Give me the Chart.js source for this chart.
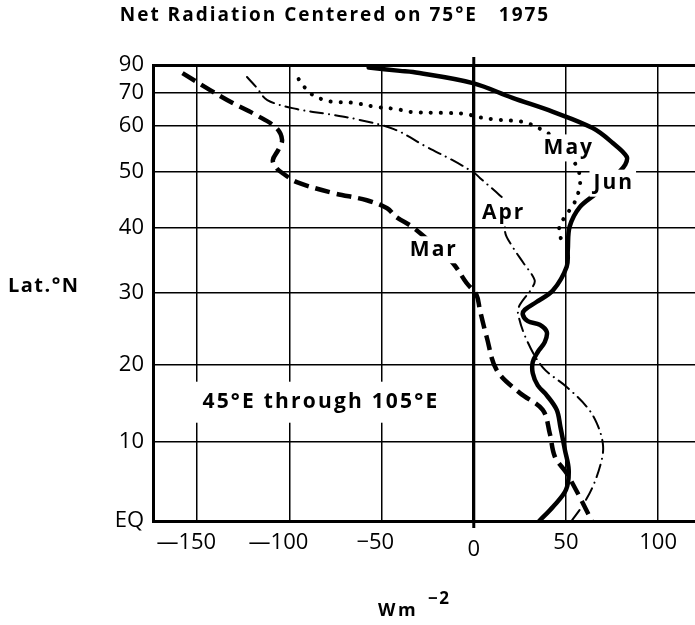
<!DOCTYPE html>
<html>
<head>
<meta charset="utf-8">
<title>Net Radiation Centered on 75°E 1975</title>
<script src="https://cdn.jsdelivr.net/npm/chart.js@4/dist/chart.umd.min.js"></script>
<style>
    html, body { margin: 0; padding: 0; background: #fff; }
    canvas { display: block; }
</style>
</head>
<body>
<canvas id="netRadChart" width="695" height="625"></canvas>
<script>
// Net radiation profiles, 45°E - 105°E, 1975 (W m-2 against latitude)

const latTicks = [0, 10, 20, 30, 40, 50, 60, 70, 90];
const latTickLabels = ['EQ', '10', '20', '30', '40', '50', '60', '70', '90'];
const fluxTicks = [-150, -100, -50, 0, 50, 100];
const fluxTickLabels = ['\u2014150', '\u2014100', '\u221250', '0', '50', '100'];

const monthNames = ['Mar', 'Apr', 'May', 'Jun'];

// March
const marLat = [79.2, 70.9, 66.5, 62.9, 59.5, 56.7, 54.5, 52.3, 50.7, 49.4, 48, 46, 44.7, 43.3, 41.8, 40.1,
    37.3, 34.5, 31.5, 29.7, 27.6, 23.8, 19.3, 16.3, 14.1, 11.1, 8.1, 6, 3, 0];
const marFlux = [-158, -143, -131, -118, -107, -104, -106, -109, -107, -102.5, -96, -76.5, -58, -47, -42, -33,
    -22, -11.5, -4, 1.5, 3.3, 7, 12.5, 25, 37.4, 41.2, 44, 50.4, 57.5, 64];

// April
const aprLat = [76.8, 72.1, 67.4, 64.6, 63.1, 61.6, 59.2, 55.1, 52.3, 49.7, 48.8, 45.6, 44.2, 39.3, 36.9,
    34.6, 31.9, 30.7, 28.3, 27.1, 23.4, 19.7, 17.1, 14.5, 12.4, 9.8, 7.7, 4.3, 1.8, 0];
const aprFlux = [-123, -118, -112, -96, -78, -62, -43, -25.5, -11.5, 0.5, 3.3, 14, 18, 17, 21.2,
    26.6, 33, 31.5, 25, 24, 28.7, 37.4, 50.4, 61.3, 66.7, 70, 69.4, 64.5, 58.6, 53];

// May
const mayLat = [75.7, 72.2, 69.4, 67.7, 66.8, 66.5, 65.2, 64.6, 63.8, 63.5, 63.2, 62.4, 61.6, 61.3, 60.8,
    59, 57.4, 54, 50.7, 48.8, 47.1, 44.4, 43, 41.8, 40.5, 39.2, 37.7];
const mayFlux = [-95, -92, -88, -82.5, -76.5, -65.6, -52.6, -41.8, -34.7, -16.8, -3.8, 1.6, 14.1, 23.3, 28.7,
    37.4, 42.9, 50.4, 56.4, 57.5, 57.5, 54.8, 52, 49.4, 46.6, 46.6, 47.7];

// June
const junLat = [84, 80.8, 79.9, 73.8, 68.1, 63.8, 59.5, 56, 53, 51.3, 50, 46, 43.5, 40.2, 36.5, 33.9, 30.4,
    28.7, 27.6, 26.9, 26, 25.5, 24.5, 23.1, 21.75, 20.4, 18.9, 17.3, 16, 14.1, 11.9, 9, 6.4, 3.9, 1.8, 0];
const junFlux = [-57, -40, -33, -0.5, 21, 43, 64.5, 75.4, 83, 82, 79, 66.7, 57.5, 52, 51, 50.4, 43,
    34, 27.7, 26.6, 29.3, 35.8, 39.6, 38.5, 34.7, 32, 32, 34.7, 39.6, 45, 47, 49.4, 51.5, 50, 43, 35.5];

const DEG = Math.PI / 180;
const FONT = '"Open Sans", "DejaVu Sans", sans-serif';

// Latitude axis spaced by sin(lat), so equal areas get equal heights
class SineLatitudeScale extends Chart.LinearScale {
    _sinDecimal(value) {
        const lo = Math.sin(this.min * DEG);
        const hi = Math.sin(this.max * DEG);
        return (Math.sin(value * DEG) - lo) / (hi - lo);
    }
    getPixelForValue(value) {
        if (value === null || value === undefined) return NaN;
        return this.getPixelForDecimal(this._sinDecimal(value));
    }
    getValueForPixel(pixel) {
        const lo = Math.sin(this.min * DEG);
        const hi = Math.sin(this.max * DEG);
        const s = lo + this.getDecimalForPixel(pixel) * (hi - lo);
        return Math.asin(Math.max(-1, Math.min(1, s))) / DEG;
    }
}
SineLatitudeScale.id = 'sineLatitude';
SineLatitudeScale.defaults = Chart.LinearScale.defaults;
Chart.register(SineLatitudeScale);

function toPoints(lats, flux) {
    return lats.map((lat, i) => ({ x: flux[i], y: lat }));
}

function drawText(ctx, text, x, y, size, weight, align, spacing) {
    ctx.save();
    ctx.font = `${weight} ${size}px ${FONT}`;
    ctx.letterSpacing = `${spacing || 0}px`;
    ctx.textAlign = align || 'center';
    ctx.textBaseline = 'middle';
    ctx.fillStyle = '#000';
    let dx = 0;
    if ((align || 'center') === 'center') dx = (spacing || 0) / 2;
    ctx.fillText(text, x + dx, y);
    ctx.restore();
}

// White patch behind a label, then the label itself
function boxedLabel(ctx, text, x, y, size, spacing, padX, padY) {
    ctx.save();
    ctx.font = `bold ${size}px ${FONT}`;
    ctx.letterSpacing = `${spacing}px`;
    const w = ctx.measureText(text).width;
    ctx.fillStyle = '#fff';
    ctx.fillRect(x - w / 2 - padX, y - size / 2 - padY, w + 2 * padX, size + 2 * padY);
    ctx.restore();
    drawText(ctx, text, x, y, size, 'bold', 'center', spacing);
}

const annotations = {
    id: 'annotations',
    afterDatasetsDraw(chart) {
        const ctx = chart.ctx;
        const xs = chart.scales.x;
        const ys = chart.scales.y;

        boxedLabel(ctx, '45\u00b0E through 105\u00b0E', xs.getPixelForValue(-83.5), ys.getPixelForValue(15.1), 21, 2.2, 8, 10);

        const monthSpots = {
            Mar: [-22.2, 36.5],
            Apr: [15.7, 42.5],
            May: [51, 54.9],
            Jun: [75.4, 47.8]
        };
        monthNames.forEach(name => {
            const [fx, lat] = monthSpots[name];
            boxedLabel(ctx, name, xs.getPixelForValue(fx), ys.getPixelForValue(lat), 21, 2, 3, 3);
        });
    },
    afterDraw(chart) {
        const ctx = chart.ctx;
        const xs = chart.scales.x;
        const area = chart.chartArea;

        // zero line runs a little past the frame
        const x0 = xs.getPixelForValue(0);
        ctx.save();
        ctx.strokeStyle = '#000';
        ctx.lineWidth = 3;
        ctx.beginPath();
        ctx.moveTo(x0, area.top - 8);
        ctx.lineTo(x0, area.bottom + 7);
        ctx.stroke();
        ctx.restore();

        // x tick labels: digits centred on the grid line, minus sign hanging left
        fluxTicks.forEach((v, i) => {
            const label = fluxTickLabels[i];
            const digits = String(Math.abs(v));
            ctx.save();
            ctx.font = `500 22px ${FONT}`;
            const dw = ctx.measureText(digits).width;
            ctx.restore();
            const px = xs.getPixelForValue(v);
            const py = v === 0 ? area.bottom + 29 : area.bottom + 22;
            drawText(ctx, label, px + dw / 2, py, 22, '500', 'right', 0);
        });

        drawText(ctx, 'Net Radiation Centered on 75\u00b0E   1975', 334, 16, 19, 'bold', 'center', 2);
        drawText(ctx, 'Lat.\u00b0N', 43, 286, 20, 'bold', 'center', 1.5);
        drawText(ctx, 'Wm', 378, 611, 18, 'bold', 'left', 2.5);
        drawText(ctx, '\u22122', 428, 599, 17, 'bold', 'left', 1.5);
    }
};

const ctx = document.getElementById('netRadChart');

new Chart(ctx, {
    type: 'line',
    data: {
        datasets: [
            {
                label: 'Mar',
                data: toPoints(marLat, marFlux),
                borderColor: '#000',
                borderWidth: 4.5,
                borderDash: [15, 7],
                borderCapStyle: 'butt',
                tension: 0.35
            },
            {
                label: 'Apr',
                data: toPoints(aprLat, aprFlux),
                borderColor: '#000',
                borderWidth: 2,
                borderDash: [13, 6, 0.1, 6],
                borderCapStyle: 'round',
                tension: 0.35
            },
            {
                label: 'May',
                data: toPoints(mayLat, mayFlux),
                borderColor: '#000',
                borderWidth: 4,
                borderDash: [0.1, 10],
                borderCapStyle: 'round',
                tension: 0.35
            },
            {
                label: 'Jun',
                data: toPoints(junLat, junFlux),
                borderColor: '#000',
                borderWidth: 4.5,
                borderCapStyle: 'round',
                borderJoinStyle: 'round',
                tension: 0.35
            }
        ]
    },
    options: {
        responsive: false,
        animation: false,
        layout: {
            padding: { top: 65, bottom: 104, left: 0, right: 0 }
        },
        elements: {
            point: { radius: 0, hoverRadius: 0 }
        },
        plugins: {
            legend: { display: false },
            tooltip: { enabled: false },
            title: { display: false }
        },
        scales: {
            x: {
                type: 'linear',
                min: -174,
                max: 120,
                afterBuildTicks: axis => {
                    axis.ticks = fluxTicks.map(v => ({ value: v }));
                },
                afterFit: axis => {
                    axis.height = 0;
                },
                ticks: { display: false },
                grid: {
                    color: '#000',
                    drawTicks: false,
                    lineWidth: c => (c.tick && c.tick.value === 0 ? 3 : 1.5)
                },
                border: { color: '#000', width: 3 }
            },
            y: {
                type: 'sineLatitude',
                min: 0,
                max: 90,
                afterBuildTicks: axis => {
                    axis.ticks = latTicks.map(v => ({ value: v }));
                },
                afterFit: axis => {
                    axis.width = 153;
                },
                ticks: {
                    autoSkip: false,
                    padding: 9,
                    color: '#000',
                    font: { family: FONT, size: 22, weight: '500' },
                    callback: value => latTickLabels[latTicks.indexOf(value)]
                },
                grid: {
                    color: '#000',
                    drawTicks: false,
                    lineWidth: c => (c.tick && c.tick.value === 90 ? 3 : 1.5)
                },
                border: { color: '#000', width: 3 }
            }
        }
    },
    plugins: [annotations]
});
</script>
</body>
</html>
